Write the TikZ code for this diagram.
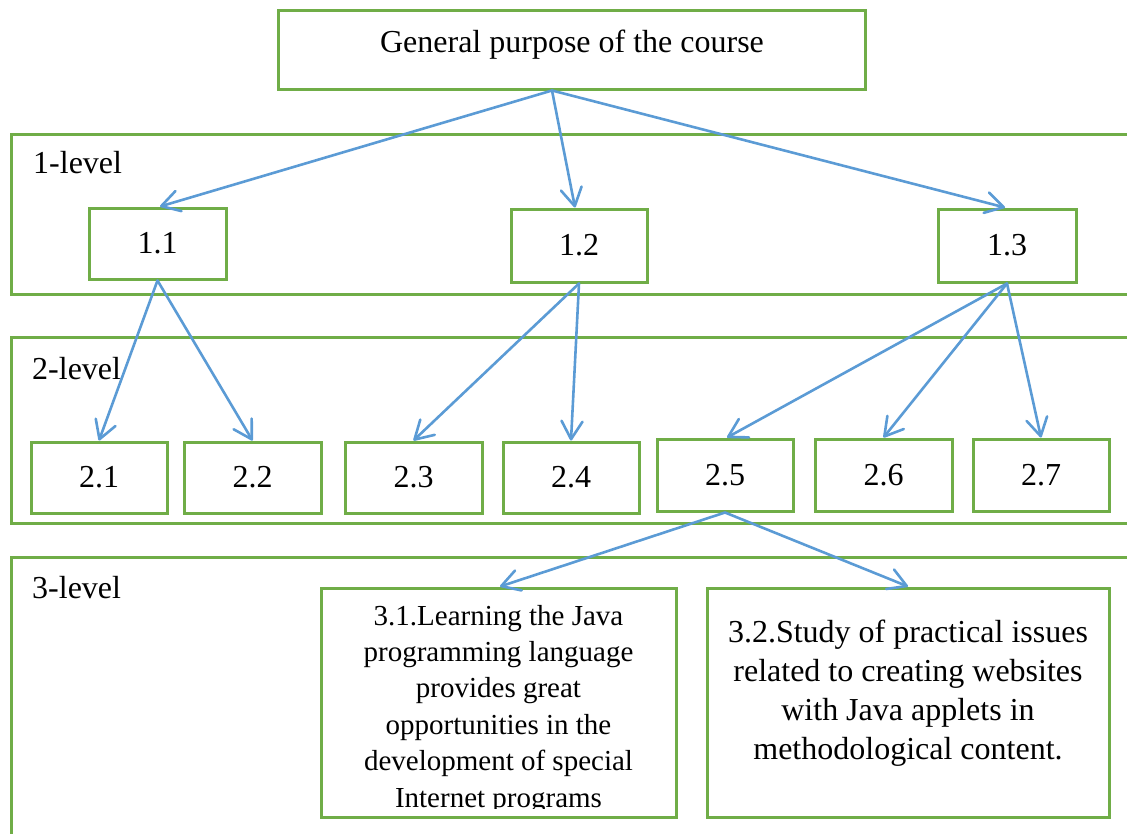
\documentclass[tikz,border=0pt]{standalone}
\usepackage{fontspec}
\setmainfont{Liberation Serif}
\usetikzlibrary{arrows.meta}
\definecolor{grn}{HTML}{70AD47}
\definecolor{blu}{HTML}{5B9BD5}
\begin{document}
\begin{tikzpicture}[x=1pt,y=-1pt,
  font=\fontsize{32}{38}\selectfont,
  box/.style={draw=grn, line width=3pt, inner sep=0pt, fill=white},
  lvl/.style={draw=grn, line width=3pt},
  txt/.style={inner sep=0pt},
  arr/.style={draw=blu, line width=2.6pt, line cap=round, line join=round,
    -{Straight Barb[length=18pt,width=21pt,line cap=round,line join=round]}}]
\path[use as bounding box] (0,0) rectangle (1127,833);
% level frames (run past the right and bottom edges)
\begin{scope}
  \clip (0,0) rectangle (1127,833);
  \draw[lvl] (11,134) rectangle (1140,294);
  \draw[lvl] (11,337) rectangle (1140,523);
  \draw[lvl] (11,557) rectangle (1140,870);
\end{scope}
\node[txt, anchor=base west] (l1) at (33,173) {1-level};
\node[txt, anchor=base west] (l2) at (32,379) {2-level};
\node[txt, anchor=base west] (l3) at (32,598) {3-level};
% top
\node[box, minimum width=587pt, minimum height=79pt] (top) at (571.5,49.5) {};
\node[txt, anchor=base] (toptxt) at (572,52) {General purpose of the course};
% level 1
\node[box, minimum width=137pt, minimum height=71pt] (n11) at (157.5,243.5) {1.1};
\node[box, minimum width=136pt, minimum height=73pt] (n12) at (579,245.5) {1.2};
\node[box, minimum width=138pt, minimum height=73pt] (n13) at (1007,245.5) {1.3};
% level 2
\node[box, minimum width=136pt, minimum height=71pt] (n21) at (99,477.5) {2.1};
\node[box, minimum width=137pt, minimum height=71pt] (n22) at (252.5,477.5) {2.2};
\node[box, minimum width=137pt, minimum height=71pt] (n23) at (413.5,477.5) {2.3};
\node[box, minimum width=136pt, minimum height=71pt] (n24) at (571,477.5) {2.4};
\node[box, minimum width=136pt, minimum height=72pt] (n25) at (725,475) {2.5};
\node[box, minimum width=137pt, minimum height=72pt] (n26) at (883.5,475) {2.6};
\node[box, minimum width=136pt, minimum height=72pt] (n27) at (1041,475) {2.7};
% level 3
\node[box, minimum width=355pt, minimum height=229pt] (n31) at (498.5,702.5) {};
\node[box, minimum width=402pt, minimum height=229pt] (n32) at (908,702.5) {};
\begin{scope}
  \clip (321,588) rectangle (676,808);
  \node[txt, align=center, font=\fontsize{29}{36.4}\selectfont] (t31) at (498.5,709.2)
    {3.1.Learning the Java\\programming language\\provides great\\opportunities in the\\development of special\\Internet programs};
\end{scope}
\node[txt, align=center, font=\fontsize{32}{39}\selectfont] (t32) at (908,693)
  {3.2.Study of practical issues\\related to creating websites\\with Java applets in\\methodological content.};
% connectors
\draw[arr] ([xshift=-19.5pt]top.south) -- ([xshift=2.5pt]n11.north);
\draw[arr] ([xshift=-19.5pt]top.south) -- ([xshift=-4pt]n12.north);
\draw[arr] ([xshift=-19.5pt]top.south) -- ([xshift=-2pt]n13.north);
\draw[arr] (n11.south) -- (n21.north);
\draw[arr] (n11.south) -- (n22.north);
\draw[arr] (n12.south) -- (n23.north);
\draw[arr] (n12.south) -- (n24.north);
\draw[arr] (n13.south) -- ([xshift=2pt]n25.north);
\draw[arr] (n13.south) -- (n26.north);
\draw[arr] (n13.south) -- (n27.north);
\draw[arr] (n25.south) -- ([xshift=1.5pt]n31.north);
\draw[arr] (n25.south) -- (n32.north);
\end{tikzpicture}
\end{document}
